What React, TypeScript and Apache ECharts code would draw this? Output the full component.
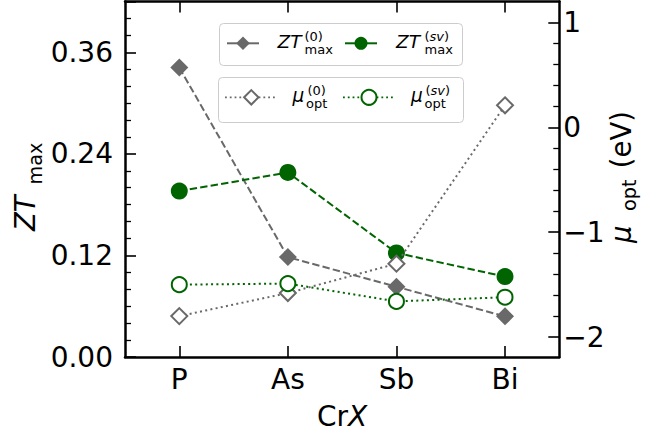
import { useEffect, useRef } from "react";
import * as echarts from "echarts";

// CrX compounds and their thermoelectric figures
const categories = ["P", "As", "Sb", "Bi"];
const ztZero = [0.342, 0.118, 0.083, 0.048];
const ztSv = [0.196, 0.218, 0.123, 0.095];
const muZero = [-1.8, -1.58, -1.3, 0.21];
const muSv = [-1.5, -1.49, -1.66, -1.62];

const rightMajorTicks = [-2, -1, 0, 1];
const rightMinorTicks = [-1.8, -1.6, -1.4, -1.2, -0.8, -0.6, -0.4, -0.2, 0.2, 0.4, 0.6, 0.8];

const FONT = "'DejaVu Sans', sans-serif";
const GRAY = "#696969";
const GREEN = "#006400";

// text placed by its alphabetic baseline
function txt(x: number, baseline: number, text: string, fs: number, italic = false, rich?: any) {
  return {
    type: "text",
    x,
    y: baseline - 0.346 * fs,
    z: 30,
    style: {
      text,
      fontSize: fs,
      fontFamily: FONT,
      fontStyle: italic ? "italic" : "normal",
      fill: "#000",
      align: "left",
      verticalAlign: "middle",
      lineHeight: fs * 0.9,
      rich,
    },
  };
}

// vertical text reading bottom-to-top; baselineX is the baseline's x position
function vtxt(baselineX: number, yStart: number, text: string, fs: number, italic = false) {
  return {
    type: "text",
    x: baselineX - 0.346 * fs,
    y: yStart,
    rotation: Math.PI / 2,
    z: 30,
    style: {
      text,
      fontSize: fs,
      fontFamily: FONT,
      fontStyle: italic ? "italic" : "normal",
      fill: "#000",
      align: "left",
      verticalAlign: "middle",
    },
  };
}

const svRich = {
  p: { fontSize: 13, fontFamily: FONT, fontStyle: "normal", fill: "#000", lineHeight: 11.7 },
  i: { fontSize: 13, fontFamily: FONT, fontStyle: "italic", fill: "#000", lineHeight: 11.7 },
};

function diamond(cx: number, cy: number, h: number, style: any) {
  return {
    type: "polygon",
    z: 30,
    shape: { points: [[cx, cy - h], [cx + h, cy], [cx, cy + h], [cx - h, cy]] },
    style,
  };
}

function hline(x1: number, x2: number, y: number, stroke: string, width: number, dash?: number[]) {
  return {
    type: "line",
    z: 30,
    shape: { x1, y1: y, x2, y2: y },
    style: { stroke, lineWidth: width, lineDash: dash },
  };
}

function legendBox(x: number, y: number, w: number, h: number) {
  return {
    type: "rect",
    z: 29,
    shape: { x, y, width: w, height: h, r: 4 },
    style: { fill: "rgba(255,255,255,0.8)", stroke: "#cccccc", lineWidth: 1 },
  };
}

export default function App() {
  const ref = useRef<HTMLDivElement>(null);

  useEffect(() => {
    if (!ref.current) return;
    const chart = echarts.init(ref.current, null, { renderer: "svg" });

    const axisLine = { show: true, onZero: false, lineStyle: { color: "#000", width: 2.5 } };
    const majorTick = { show: true, inside: true, length: 11, lineStyle: { color: "#000", width: 1.6 } };
    const labelStyle = { color: "#000", fontSize: 28, fontFamily: FONT };

    const option: any = {
      animation: false,
      backgroundColor: "#fff",
      grid: { left: 125, right: 110.7, top: 1.5, bottom: 71.5, containLabel: false },
      xAxis: [
        {
          type: "category",
          data: categories,
          position: "bottom",
          boundaryGap: true,
          axisLine,
          axisTick: { ...majorTick, alignWithLabel: true },
          axisLabel: { ...labelStyle, margin: 8 },
          splitLine: { show: false },
          name: "{n|Cr}{i|X}",
          nameLocation: "middle",
          nameGap: 45,
          nameTextStyle: {
            rich: {
              n: { ...labelStyle, fontStyle: "normal" },
              i: { ...labelStyle, fontStyle: "italic" },
            },
          },
        },
        {
          type: "category",
          data: categories,
          position: "top",
          boundaryGap: true,
          axisLine,
          axisTick: { ...majorTick, alignWithLabel: true },
          axisLabel: { show: false },
          splitLine: { show: false },
        },
      ],
      yAxis: [
        {
          type: "value",
          position: "left",
          min: 0,
          max: 0.42,
          interval: 0.12,
          axisLine,
          axisTick: majorTick,
          minorTick: { show: true, splitNumber: 6, length: 6, lineStyle: { color: "#000", width: 1.3 } },
          axisLabel: {
            ...labelStyle,
            margin: 12,
            showMaxLabel: false,
            formatter: (v: number) => v.toFixed(2),
          },
          splitLine: { show: false },
          minorSplitLine: { show: false },
        },
        {
          type: "value",
          position: "right",
          min: -2.19,
          max: 1.2,
          axisLine,
          axisTick: { ...majorTick, customValues: rightMajorTicks },
          axisLabel: {
            ...labelStyle,
            margin: 4,
            align: "left",
            customValues: rightMajorTicks,
            formatter: (v: number) => String(Math.round(v)).replace("-", "\u2212"),
          },
          splitLine: { show: false },
        },
        {
          type: "value",
          position: "right",
          min: -2.19,
          max: 1.2,
          axisLine: { show: false },
          axisTick: {
            show: true,
            inside: true,
            length: 6,
            customValues: rightMinorTicks,
            lineStyle: { color: "#000", width: 1.3 },
          },
          axisLabel: { show: false },
          splitLine: { show: false },
        },
      ],
      series: [
        {
          name: "ZT0",
          type: "line",
          yAxisIndex: 0,
          data: ztZero,
          symbol: "diamond",
          symbolSize: 18,
          itemStyle: { color: GRAY },
          lineStyle: { color: GRAY, width: 2, type: [7.4, 3.2] },
          z: 2,
        },
        {
          name: "ZTsv",
          type: "line",
          yAxisIndex: 0,
          data: ztSv,
          symbol: "circle",
          symbolSize: 17,
          itemStyle: { color: GREEN },
          lineStyle: { color: GREEN, width: 2, type: [7.4, 3.2] },
          z: 3,
        },
        {
          name: "mu0",
          type: "line",
          yAxisIndex: 1,
          data: muZero,
          symbol: "diamond",
          symbolSize: 16,
          itemStyle: { color: "#fff", borderColor: GRAY, borderWidth: 2 },
          lineStyle: { color: GRAY, width: 2, type: [2, 3.3] },
          z: 4,
        },
        {
          name: "musv",
          type: "line",
          yAxisIndex: 1,
          data: muSv,
          symbol: "circle",
          symbolSize: 15,
          itemStyle: { color: "#fff", borderColor: GREEN, borderWidth: 2 },
          lineStyle: { color: GREEN, width: 2, type: [2, 3.3] },
          z: 5,
        },
      ],
      graphic: [
        // left axis title: ZT_max
        vtxt(35, 231, "ZT", 27.5, true),
        vtxt(41.7, 184.5, "max", 19.25),
        // right axis title: mu_opt (eV)
        vtxt(631, 243, "\u03bc", 27.5, true),
        vtxt(636, 211, "opt", 19.25),
        vtxt(631, 177, " (eV)", 27.5),

        // legend: ZT
        legendBox(219.5, 23.5, 243, 42),
        hline(227, 259, 43.3, GRAY, 2),
        diamond(243, 43.3, 6.8, { fill: GRAY }),
        txt(277.5, 48, "ZT", 18.5, true),
        txt(304.5, 41.3, "(0)", 13),
        txt(304.5, 53.7, "max", 13),
        hline(345, 377, 43.3, GREEN, 2),
        { type: "circle", z: 30, shape: { cx: 361, cy: 43.3, r: 6.5 }, style: { fill: GREEN } },
        txt(396, 48, "ZT", 18.5, true),
        txt(424.5, 41.3, "{p|(}{i|sv}{p|)}", 13, false, svRich),
        txt(424.5, 53.7, "max", 13),

        // legend: mu
        legendBox(218.5, 77.5, 245, 45),
        hline(225, 276, 97.3, GRAY, 1.8, [1.8, 3]),
        diamond(251.3, 97.3, 7.2, { fill: "#fff", stroke: GRAY, lineWidth: 2 }),
        txt(292.5, 102, "\u03bc", 18.5, true),
        txt(307.5, 95.3, "(0)", 13),
        txt(306, 107.7, "opt", 13),
        hline(343, 395, 97.3, GREEN, 1.8, [1.8, 3]),
        { type: "circle", z: 30, shape: { cx: 369, cy: 97.3, r: 7.5 }, style: { fill: "#fff", stroke: GREEN, lineWidth: 2 } },
        txt(411, 102, "\u03bc", 18.5, true),
        txt(425.5, 95.3, "{p|(}{i|sv}{p|)}", 13, false, svRich),
        txt(424.5, 107.7, "opt", 13),
      ],
    };

    chart.setOption(option);
    return () => chart.dispose();
  }, []);

  return (
    <div
      ref={ref}
      style={{ width: 670, height: 435, position: "absolute", left: 0, top: 0, background: "#fff" }}
    />
  );
}
